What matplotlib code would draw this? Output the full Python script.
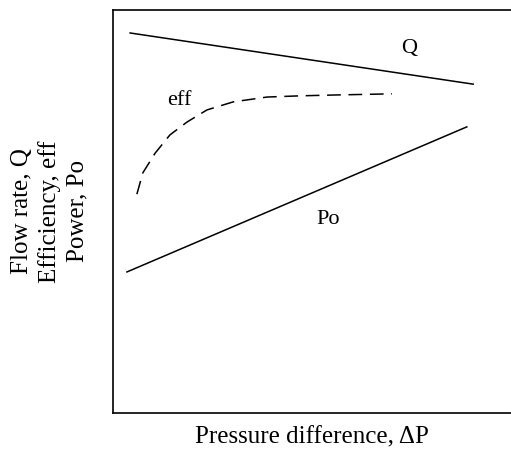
import matplotlib
matplotlib.use("Agg")
import matplotlib.pyplot as plt

plt.rcParams['font.family'] = ['Liberation Serif', 'DejaVu Serif']

# Characteristic curves (arbitrary units)
q_x = [4.3, 90.5]
q_y = [94.3, 81.6]

po_x = [3.5, 88.9]
po_y = [35.0, 71.0]

eff_x = [6.0, 7.5, 10.6, 14.3, 18.6, 23.6, 30.2, 38.7, 47.0, 55.3, 70.1]
eff_y = [54.3, 59.6, 64.5, 69.0, 72.2, 75.2, 77.2, 78.4, 78.7, 78.9, 79.2]

fig = plt.figure(figsize=(5.11, 4.49), dpi=100)
ax = fig.add_axes([113 / 511, 36 / 449, 1 - 113 / 511, 403 / 449])

ax.plot(q_x, q_y, color='black', lw=1.1)
ax.plot(po_x, po_y, color='black', lw=1.1)
ax.plot(eff_x, eff_y, color='black', lw=1.1, dashes=(9, 5))

ax.text(74.3, 90.5, 'Q', fontsize=16, ha='center', va='center')
ax.text(16.8, 77.5, 'eff', fontsize=16, ha='center', va='center')
ax.text(54.0, 47.9, 'Po', fontsize=16, ha='center', va='center')

ax.set_xlim(0, 100)
ax.set_ylim(0, 100)
ax.set_xticks([])
ax.set_yticks([])
ax.spines['right'].set_visible(False)
for s in ('left', 'top', 'bottom'):
    ax.spines[s].set_linewidth(1.2)

ax.set_xlabel('Pressure difference, \u0394P', fontsize=18, labelpad=10)
ax.set_ylabel('Flow rate, Q\nEfficiency, eff\nPower, Po', fontsize=18,
              labelpad=18, linespacing=1.3)

fig.savefig('out.png', dpi=100)
